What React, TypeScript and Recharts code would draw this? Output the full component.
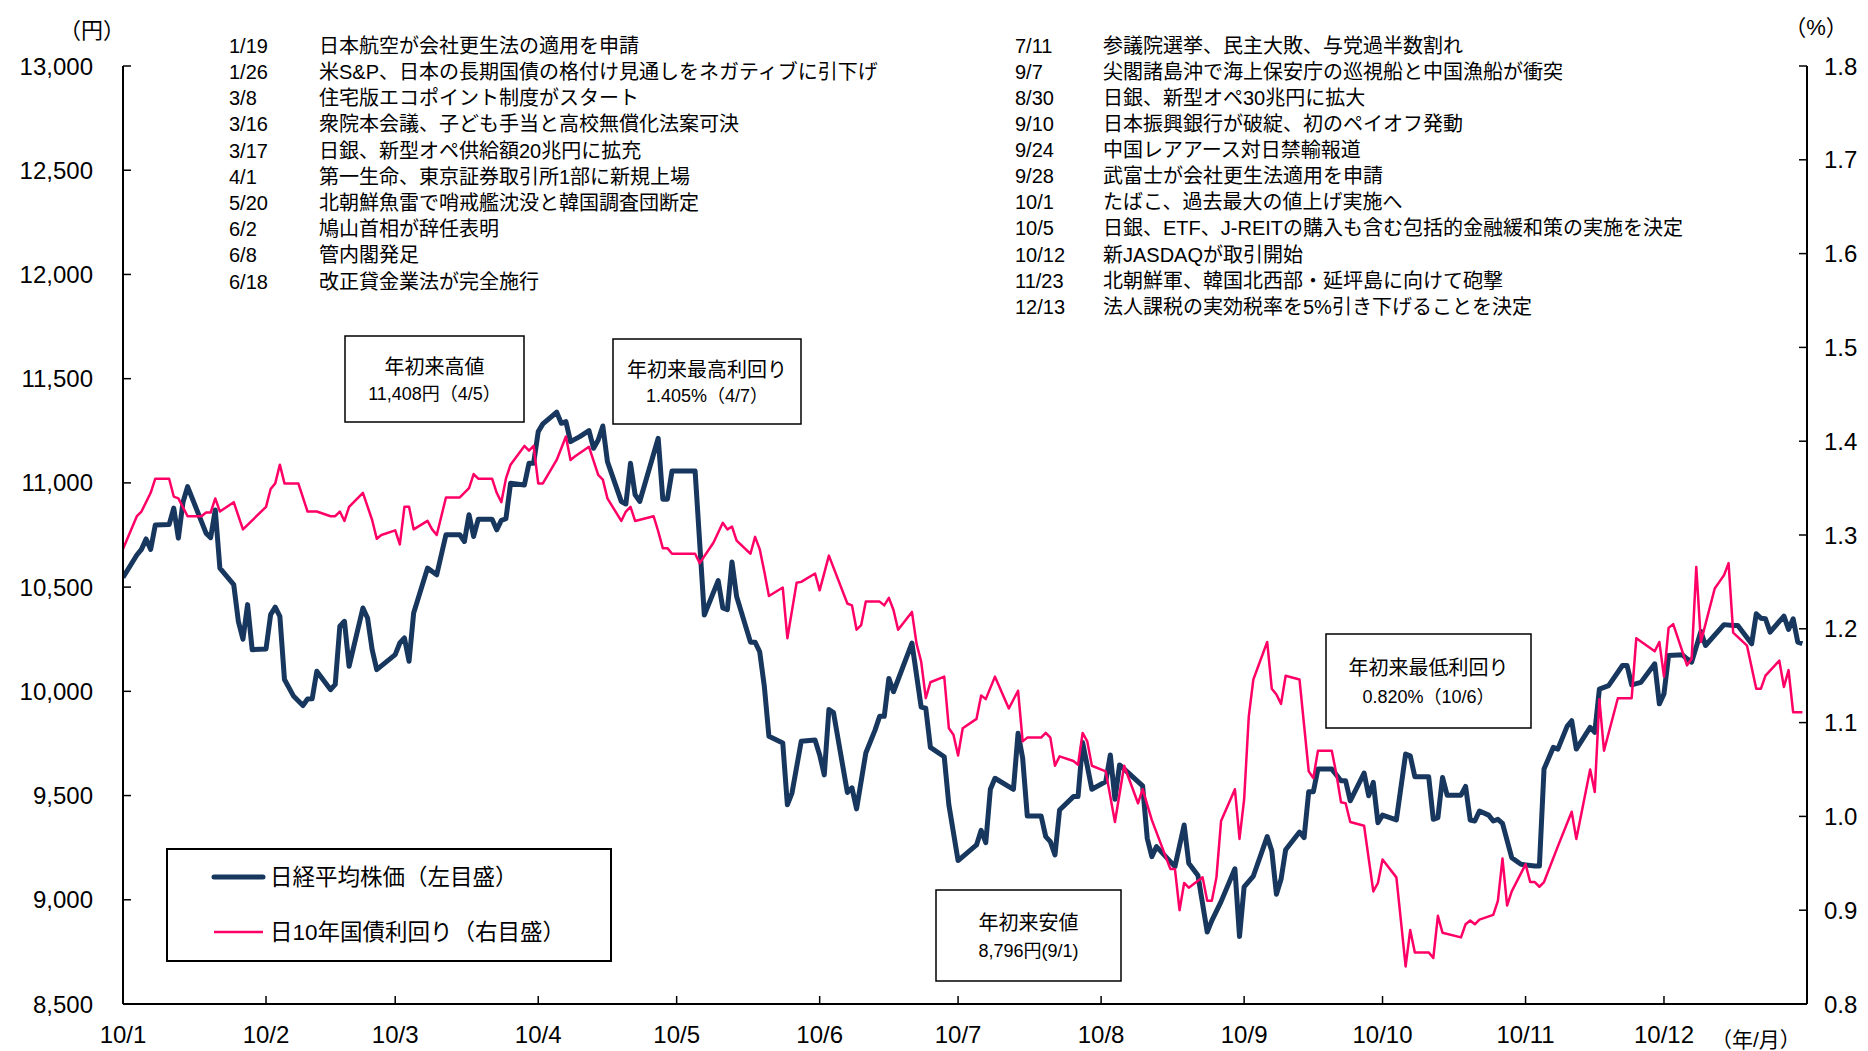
import { Line, LineChart, XAxis, YAxis } from "recharts"

// x = days since 1 Jan 2010, day 0 holds the 2009 year-end close
const monthTicks = [0, 31, 59, 90, 120, 151, 181, 212, 243, 273, 304, 334]
const monthLabels = ["10/1", "10/2", "10/3", "10/4", "10/5", "10/6", "10/7", "10/8", "10/9", "10/10", "10/11", "10/12"]
const yenTicks = [8500, 9000, 9500, 10000, 10500, 11000, 11500, 12000, 12500, 13000]
const pctTicks = [0.8, 0.9, 1.0, 1.1, 1.2, 1.3, 1.4, 1.5, 1.6, 1.7, 1.8]

const nikkeiJanJun = [
  [0, 10546], [3, 10654], [4, 10681], [5, 10731], [6, 10681], [7, 10798], [10, 10800], [11, 10879],
  [12, 10735], [13, 10907], [14, 10982], [18, 10759], [19, 10737], [20, 10870], [21, 10591], [24, 10512],
  [25, 10336], [26, 10250], [27, 10416], [28, 10200], [31, 10203], [32, 10368], [33, 10404], [34, 10360],
  [35, 10057], [37, 9976], [39, 9932], [40, 9963], [41, 9964], [42, 10096], [45, 10008], [46, 10033],
  [47, 10312], [48, 10336], [49, 10120], [52, 10400], [53, 10352], [54, 10200], [55, 10104], [59, 10176],
  [60, 10232], [61, 10256], [62, 10144], [63, 10376], [66, 10591], [68, 10559], [70, 10751], [73, 10751],
  [74, 10719], [75, 10847], [76, 10743], [77, 10826], [80, 10826], [81, 10775], [82, 10820], [83, 10828],
  [84, 10998], [87, 10990], [88, 11094], [89, 11094], [90, 11246], [91, 11283], [94, 11339], [95, 11286],
  [96, 11294], [97, 11198], [99, 11222], [101, 11251], [102, 11166], [103, 11206], [104, 11273], [105, 11102],
  [108, 10911], [109, 10899], [110, 11094], [111, 10943], [112, 10911], [116, 11214], [117, 10922], [118, 10922],
  [119, 11057], [124, 11057], [126, 10366], [129, 10531], [130, 10400], [131, 10392], [132, 10620], [133, 10455],
  [136, 10236], [137, 10236], [138, 10190], [139, 10025], [140, 9785], [143, 9752], [144, 9456], [145, 9512],
  [147, 9760], [150, 9766], [151, 9695], [152, 9599], [153, 9913], [154, 9898], [157, 9515], [158, 9537],
  [159, 9436], [161, 9704], [163, 9814], [164, 9880], [165, 9880], [166, 10062], [167, 9998], [171, 10231],
  [173, 9924], [174, 9919], [175, 9731], [178, 9686], [179, 9456],
]

const nikkeiJulDec = [
  [181, 9188], [185, 9263], [186, 9333], [187, 9274], [188, 9530], [189, 9583], [193, 9530], [194, 9799],
  [195, 9679], [196, 9402], [199, 9402], [200, 9303], [201, 9279], [202, 9215], [203, 9431], [206, 9495],
  [207, 9495], [208, 9754], [210, 9530], [213, 9567], [214, 9695], [215, 9482], [216, 9647], [221, 9546],
  [222, 9295], [223, 9207], [224, 9255], [228, 9159], [230, 9359], [231, 9175], [233, 9116], [235, 8845],
  [236, 8900], [238, 8991], [241, 9149], [242, 8824], [243, 9062], [245, 9114], [248, 9303], [249, 9234],
  [250, 9026], [251, 9098], [252, 9240], [255, 9325], [256, 9298], [257, 9518], [258, 9518], [259, 9627],
  [262, 9627], [264, 9571], [265, 9571], [266, 9475], [269, 9608], [270, 9499], [271, 9563], [272, 9370],
  [273, 9406], [276, 9383], [278, 9699], [279, 9691], [280, 9590], [283, 9590], [284, 9386], [285, 9394],
  [286, 9587], [287, 9502], [290, 9502], [291, 9544], [292, 9383], [293, 9378], [294, 9426], [296, 9406],
  [297, 9378], [298, 9386], [299, 9367], [301, 9202], [303, 9170], [306, 9162], [307, 9162], [308, 9627],
  [310, 9731], [311, 9723], [313, 9832], [314, 9859], [315, 9723], [318, 9827], [319, 9803], [320, 10011],
  [322, 10027], [325, 10124], [326, 10124], [327, 10031], [329, 10043], [332, 10132], [333, 9940], [334, 9988],
  [335, 10172], [338, 10175], [339, 10156], [340, 10140], [342, 10287], [343, 10220], [347, 10320], [349, 10316],
  [350, 10316], [353, 10228], [354, 10372], [355, 10351], [356, 10348], [357, 10284], [360, 10361], [361, 10297],
  [362, 10348], [363, 10236], [364, 10229],
]

const yieldJanJun = [
  [0, 1.285], [3, 1.32], [4, 1.325], [6, 1.345], [7, 1.36], [10, 1.36], [11, 1.341], [12, 1.339],
  [14, 1.32], [17, 1.32], [18, 1.324], [19, 1.324], [20, 1.339], [21, 1.325], [24, 1.335], [26, 1.306],
  [31, 1.33], [32, 1.349], [33, 1.355], [34, 1.375], [35, 1.355], [38, 1.355], [40, 1.325], [42, 1.325],
  [45, 1.32], [46, 1.32], [47, 1.325], [48, 1.315], [49, 1.33], [52, 1.345], [54, 1.316], [55, 1.296],
  [56, 1.3], [59, 1.305], [60, 1.29], [61, 1.33], [62, 1.33], [63, 1.306], [66, 1.315], [67, 1.306],
  [68, 1.3], [70, 1.34], [73, 1.34], [75, 1.35], [76, 1.365], [77, 1.36], [80, 1.36], [81, 1.345],
  [82, 1.335], [83, 1.36], [84, 1.375], [87, 1.395], [88, 1.39], [89, 1.395], [90, 1.355], [91, 1.355],
  [94, 1.38], [96, 1.405], [97, 1.38], [98, 1.384], [101, 1.394], [103, 1.364], [104, 1.359], [105, 1.339],
  [108, 1.315], [109, 1.325], [110, 1.33], [111, 1.315], [115, 1.32], [116, 1.304], [117, 1.286], [118, 1.286],
  [119, 1.28], [124, 1.28], [125, 1.27], [128, 1.292], [130, 1.313], [131, 1.306], [132, 1.309], [133, 1.294],
  [136, 1.28], [137, 1.298], [138, 1.285], [139, 1.261], [140, 1.235], [143, 1.244], [144, 1.19], [146, 1.249],
  [147, 1.25], [150, 1.259], [151, 1.241], [153, 1.278], [157, 1.227], [158, 1.225], [159, 1.199], [160, 1.204],
  [161, 1.229], [164, 1.229], [165, 1.225], [166, 1.233], [167, 1.22], [168, 1.199], [171, 1.218], [172, 1.184],
  [173, 1.165], [174, 1.126], [175, 1.143], [178, 1.149], [179, 1.094], [180, 1.087],
]

const yieldJulDec = [
  [181, 1.065], [182, 1.094], [185, 1.104], [186, 1.129], [187, 1.125], [189, 1.149], [192, 1.115], [194, 1.134],
  [195, 1.08], [196, 1.084], [199, 1.084], [200, 1.089], [201, 1.084], [202, 1.054], [203, 1.064], [206, 1.059],
  [207, 1.055], [208, 1.089], [209, 1.08], [210, 1.054], [213, 1.048], [215, 0.994], [217, 1.054], [220, 1.014],
  [221, 1.029], [223, 0.996], [227, 0.944], [228, 0.944], [229, 0.9], [230, 0.929], [231, 0.924], [234, 0.935],
  [235, 0.91], [236, 0.91], [237, 0.935], [238, 0.995], [241, 1.029], [242, 0.976], [243, 1.018], [244, 1.106],
  [245, 1.146], [248, 1.186], [249, 1.136], [250, 1.13], [251, 1.12], [252, 1.15], [255, 1.146], [257, 1.048],
  [258, 1.041], [259, 1.07], [262, 1.07], [263, 1.045], [264, 1.015], [265, 1.014], [266, 0.994], [269, 0.99],
  [271, 0.92], [272, 0.929], [273, 0.954], [276, 0.935], [277, 0.888], [278, 0.84], [279, 0.879], [280, 0.855],
  [283, 0.855], [284, 0.849], [285, 0.894], [286, 0.876], [290, 0.871], [291, 0.885], [292, 0.889], [293, 0.885],
  [294, 0.89], [297, 0.895], [298, 0.91], [299, 0.955], [300, 0.905], [301, 0.92], [304, 0.949], [305, 0.93],
  [306, 0.93], [307, 0.925], [308, 0.93], [311, 0.968], [314, 1.005], [315, 0.976], [318, 1.05], [319, 1.026],
  [320, 1.125], [321, 1.07], [324, 1.126], [327, 1.126], [328, 1.19], [332, 1.176], [333, 1.186], [334, 1.149],
  [335, 1.201], [336, 1.205], [339, 1.161], [340, 1.168], [341, 1.266], [342, 1.186], [345, 1.243], [346, 1.25],
  [347, 1.257], [348, 1.27], [349, 1.196], [352, 1.182], [354, 1.136], [355, 1.136], [356, 1.15], [359, 1.166],
  [360, 1.138], [361, 1.156], [362, 1.111], [364, 1.111],
]

const eventsLeft = [
  ["1/19", "日本航空が会社更生法の適用を申請"],
  ["1/26", "米S&P、日本の長期国債の格付け見通しをネガティブに引下げ"],
  ["3/8", "住宅版エコポイント制度がスタート"],
  ["3/16", "衆院本会議、子ども手当と高校無償化法案可決"],
  ["3/17", "日銀、新型オペ供給額20兆円に拡充"],
  ["4/1", "第一生命、東京証券取引所1部に新規上場"],
  ["5/20", "北朝鮮魚雷で哨戒艦沈没と韓国調査団断定"],
  ["6/2", "鳩山首相が辞任表明"],
  ["6/8", "管内閣発足"],
  ["6/18", "改正貸金業法が完全施行"],
]

const eventsRight = [
  ["7/11", "参議院選挙、民主大敗、与党過半数割れ"],
  ["9/7", "尖閣諸島沖で海上保安庁の巡視船と中国漁船が衝突"],
  ["8/30", "日銀、新型オペ30兆円に拡大"],
  ["9/10", "日本振興銀行が破綻、初のペイオフ発動"],
  ["9/24", "中国レアアース対日禁輸報道"],
  ["9/28", "武富士が会社更生法適用を申請"],
  ["10/1", "たばこ、過去最大の値上げ実施へ"],
  ["10/5", "日銀、ETF、J-REITの購入も含む包括的金融緩和策の実施を決定"],
  ["10/12", "新JASDAQが取引開始"],
  ["11/23", "北朝鮮軍、韓国北西部・延坪島に向けて砲撃"],
  ["12/13", "法人課税の実効税率を5%引き下げることを決定"],
]

const NAVY = "#17375E"
const PINK = "#FF0066"
const FONT = "'Liberation Sans', 'Noto Sans CJK JP', sans-serif"

const toRows = (pairs: number[][]) => pairs.map(([d, v]) => ({ d, v }))
const nikkeiData = [...toRows(nikkeiJanJun), ...toRows(nikkeiJulDec)]
const yieldData = [...toRows(yieldJanJun), ...toRows(yieldJulDec)]

const XTick = (props: any) => {
  const { x, y, payload } = props
  const i = monthTicks.indexOf(payload.value)
  return (
    <g>
      <line x1={x} y1={y} x2={x} y2={y - 8} stroke="#000" strokeWidth={1.5} />
      <text x={x} y={y + 30} textAnchor="middle" dominantBaseline="central" fontSize={24} fontFamily={FONT} fill="#000">
        {monthLabels[i]}
      </text>
    </g>
  )
}

const LeftTick = (props: any) => {
  const { x, y, payload } = props
  return (
    <g>
      <line x1={x} y1={y} x2={x + 8} y2={y} stroke="#000" strokeWidth={1.5} />
      <text x={x - 30} y={y} textAnchor="end" dominantBaseline="central" fontSize={24} fontFamily={FONT} fill="#000">
        {payload.value.toLocaleString("en-US")}
      </text>
    </g>
  )
}

const RightTick = (props: any) => {
  const { x, y, payload } = props
  return (
    <g>
      <line x1={x - 8} y1={y} x2={x} y2={y} stroke="#000" strokeWidth={1.5} />
      <text x={x + 17} y={y} textAnchor="start" dominantBaseline="central" fontSize={24} fontFamily={FONT} fill="#000">
        {Number(payload.value).toFixed(1)}
      </text>
    </g>
  )
}

const NoteBox = ({ x, y, w, h, line1, line2 }: { x: number; y: number; w: number; h: number; line1: string; line2: string }) => (
  <g>
    <rect x={x} y={y} width={w} height={h} fill="#fff" stroke="#000" strokeWidth={1.5} />
    <text x={x + w / 2} y={y + h * 0.36} textAnchor="middle" dominantBaseline="central" fontSize={20}>
      {line1}
    </text>
    <text x={x + w / 2} y={y + h * 0.67} textAnchor="middle" dominantBaseline="central" fontSize={18}>
      {line2}
    </text>
  </g>
)

export default function App() {
  return (
    <div style={{ position: "absolute", left: 0, top: 0, width: 1868, height: 1051, background: "#fff" }}>
      <LineChart width={1868} height={1051} margin={{ top: 66, right: 0, bottom: 0, left: 0 }}>
        <XAxis
          type="number"
          dataKey="d"
          domain={[0, 365]}
          ticks={monthTicks}
          interval={0}
          allowDataOverflow
          height={47}
          tickSize={0}
          tickMargin={0}
          tickLine={false}
          axisLine={{ stroke: "#000", strokeWidth: 2 }}
          tick={XTick}
        />
        <YAxis
          yAxisId="yen"
          domain={[8500, 13000]}
          ticks={yenTicks}
          interval={0}
          allowDataOverflow
          width={123}
          tickSize={0}
          tickMargin={0}
          tickLine={false}
          axisLine={{ stroke: "#000", strokeWidth: 2 }}
          tick={LeftTick}
        />
        <YAxis
          yAxisId="pct"
          orientation="right"
          domain={[0.8, 1.8]}
          ticks={pctTicks}
          interval={0}
          allowDataOverflow
          width={61}
          tickSize={0}
          tickMargin={0}
          tickLine={false}
          axisLine={{ stroke: "#000", strokeWidth: 2 }}
          tick={RightTick}
        />
        <Line
          yAxisId="yen"
          data={nikkeiData}
          dataKey="v"
          type="linear"
          stroke={NAVY}
          strokeWidth={5}
          strokeLinejoin="round"
          dot={false}
          isAnimationActive={false}
        />
        <Line
          yAxisId="pct"
          data={yieldData}
          dataKey="v"
          type="linear"
          stroke={PINK}
          strokeWidth={2.5}
          strokeLinejoin="round"
          dot={false}
          isAnimationActive={false}
        />
      </LineChart>

      <svg
        width={1868}
        height={1051}
        style={{ position: "absolute", left: 0, top: 0, pointerEvents: "none" }}
        fontFamily={FONT}
        fill="#000"
      >
        <text x={92} y={30} textAnchor="middle" dominantBaseline="central" fontSize={22}>（円）</text>
        <text x={1816} y={27} textAnchor="middle" dominantBaseline="central" fontSize={22}>（%）</text>
        <text x={1711} y={1039} dominantBaseline="central" fontSize={21}>（年/月）</text>

        {eventsLeft.map(([d, t], i) => (
          <g key={d + t}>
            <text x={229} y={45.7 + i * 26.2} dominantBaseline="central" fontSize={20}>{d}</text>
            <text x={319} y={45.7 + i * 26.2} dominantBaseline="central" fontSize={20}>{t}</text>
          </g>
        ))}
        {eventsRight.map(([d, t], i) => (
          <g key={d + t}>
            <text x={1015} y={45.7 + i * 26.1} dominantBaseline="central" fontSize={20}>{d}</text>
            <text x={1103} y={45.7 + i * 26.1} dominantBaseline="central" fontSize={20}>{t}</text>
          </g>
        ))}

        <NoteBox x={345} y={336} w={179} h={86} line1="年初来高値" line2="11,408円（4/5）" />
        <NoteBox x={613} y={339} w={188} h={85} line1="年初来最高利回り" line2="1.405%（4/7）" />
        <NoteBox x={936} y={890} w={185} h={91} line1="年初来安値" line2="8,796円(9/1)" />
        <NoteBox x={1326} y={634} w={205} h={94} line1="年初来最低利回り" line2="0.820%（10/6）" />

        <rect x={167} y={849} width={444} height={112} fill="#fff" stroke="#000" strokeWidth={2} />
        <line x1={214} y1={877} x2={263} y2={877} stroke={NAVY} strokeWidth={5} strokeLinecap="round" />
        <text x={270} y={877} dominantBaseline="central" fontSize={22.5}>日経平均株価（左目盛）</text>
        <line x1={214} y1={932} x2={263} y2={932} stroke={PINK} strokeWidth={2.5} />
        <text x={270} y={932} dominantBaseline="central" fontSize={22.5}>日10年国債利回り（右目盛）</text>
      </svg>
    </div>
  )
}
